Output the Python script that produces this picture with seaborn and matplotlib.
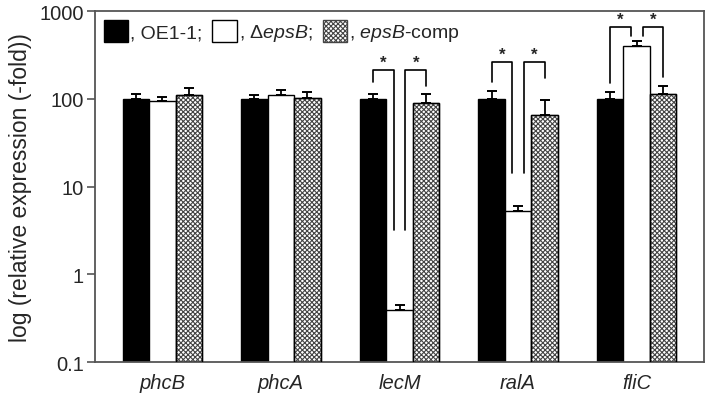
import numpy as np
import pandas as pd
import seaborn as sns
import matplotlib.pyplot as plt
from matplotlib.patches import Patch

genes = ['phcB', 'phcA', 'lecM', 'ralA', 'fliC']
strains = ['OE1-1', 'epsB', 'epsB-comp']

wt_vals = [100, 100, 100, 100, 100]
wt_err = [13, 10, 14, 22, 19]
mut_vals = [94, 111, 0.39, 5.3, 398]
mut_err = [10, 14, 0.06, 0.7, 56]
comp_vals = [110, 101, 89, 65, 112]
comp_err = [22, 18, 24, 31, 27]

# significance brackets: gene, top, left leg end, middle leg end, right leg end
sig_genes = ['lecM', 'ralA', 'fliC']
sig_top = [212, 261, 656]
sig_left_end = [155, 155, 150]
sig_mid_end = [3.2, 14.4, 518]
sig_right_end = [139, 171, 176]


def make_table():
    rows = []
    for vals, errs, s in [(wt_vals, wt_err, strains[0]),
                          (mut_vals, mut_err, strains[1]),
                          (comp_vals, comp_err, strains[2])]:
        for g, v, e in zip(genes, vals, errs):
            rows.append({'gene': g, 'strain': s, 'value': v, 'err': e})
    return pd.DataFrame(rows)


sns.set_style('white')
plt.rcParams['font.family'] = ['Liberation Sans', 'DejaVu Sans']
plt.rcParams['mathtext.fontset'] = 'custom'
plt.rcParams['mathtext.rm'] = 'Liberation Sans'
plt.rcParams['mathtext.it'] = 'Liberation Sans:italic'
plt.rcParams['hatch.linewidth'] = 0.8

df = make_table()

fig = plt.figure(figsize=(7.09, 4.02), dpi=100)
ax = fig.add_axes([0.134, 0.097, 0.859, 0.873])

sns.barplot(data=df, x='gene', y='value', hue='strain', order=genes,
            hue_order=strains, errorbar=None, width=0.67, gap=0,
            palette=['black', 'white', 'white'], edgecolor='black',
            linewidth=1.0, legend=False, ax=ax)
ax.set_yscale('log')
ax.set_ylim(0.1, 1000)

# bars come ordered by hue then by gene
bars = ax.patches[:len(genes) * len(strains)]
centers = {}
for k, p in enumerate(bars):
    s = strains[k // len(genes)]
    g = genes[k % len(genes)]
    centers[(g, s)] = p.get_x() + p.get_width() / 2
    if s == 'epsB-comp':
        p.set_hatch('xxxxxxx')
        p.set_edgecolor('#444444')
        ax.bar(centers[(g, s)], p.get_height(), width=p.get_width(),
               bottom=0.1, fill=False, edgecolor='black', linewidth=1.0,
               zorder=3)

for s in strains:
    sub = df[df.strain == s]
    xs = [centers[(g, s)] for g in sub.gene]
    ax.errorbar(xs, sub.value, yerr=[np.zeros(len(sub)), sub.err], fmt='none',
                ecolor='black', elinewidth=1.3, capsize=3.8, capthick=1.4,
                zorder=4)

d = 0.05
for g, top, le, me, re in zip(sig_genes, sig_top, sig_left_end, sig_mid_end,
                              sig_right_end):
    x0 = centers[(g, strains[0])]
    x1 = centers[(g, strains[1])]
    x2 = centers[(g, strains[2])]
    ax.plot([x0, x0, x1 - d, x1 - d], [le, top, top, me], color='black',
            lw=1.2, zorder=5)
    ax.plot([x1 + d, x1 + d, x2, x2], [me, top, top, re], color='black',
            lw=1.2, zorder=5)
    ax.text((x0 + x1 - d) / 2, top * 1.22, '*', ha='center', va='center',
            fontsize=12, fontweight='bold')
    ax.text((x1 + d + x2) / 2, top * 1.22, '*', ha='center', va='center',
            fontsize=12, fontweight='bold')

ax.set_yticks([0.1, 1, 10, 100, 1000])
ax.set_yticklabels(['0.1', '1', '10', '100', '1000'], fontsize=14.5)
ax.minorticks_off()
ax.tick_params(axis='y', which='major', length=6, width=1.2, color='#555555',
               left=True, direction='out', pad=2)
ax.tick_params(axis='x', length=0, pad=8)
ax.set_xticks(range(len(genes)))
ax.set_xticklabels(genes, fontsize=14.5, style='italic')
ax.set_xlabel('')
ax.set_ylabel('log (relative expression (-fold))', fontsize=16.5, labelpad=5)
for sp in ax.spines.values():
    sp.set_color('#555555')
    sp.set_linewidth(1.3)

handles = [Patch(facecolor='black', edgecolor='black'),
           Patch(facecolor='white', edgecolor='black'),
           Patch(facecolor='white', edgecolor='#444444', hatch='xxxxxxx')]
labels = [', OE1-1;', ', Δ$\\mathit{epsB}$;', ', $\\mathit{epsB}$-comp']
ax.legend(handles, labels, loc='upper left', ncol=3, frameon=False,
          fontsize=14, handlelength=1.25, handleheight=1.35,
          handletextpad=0.12, columnspacing=0.5, borderaxespad=0.25,
          borderpad=0.2)

fig.savefig('out.png', dpi=100)
